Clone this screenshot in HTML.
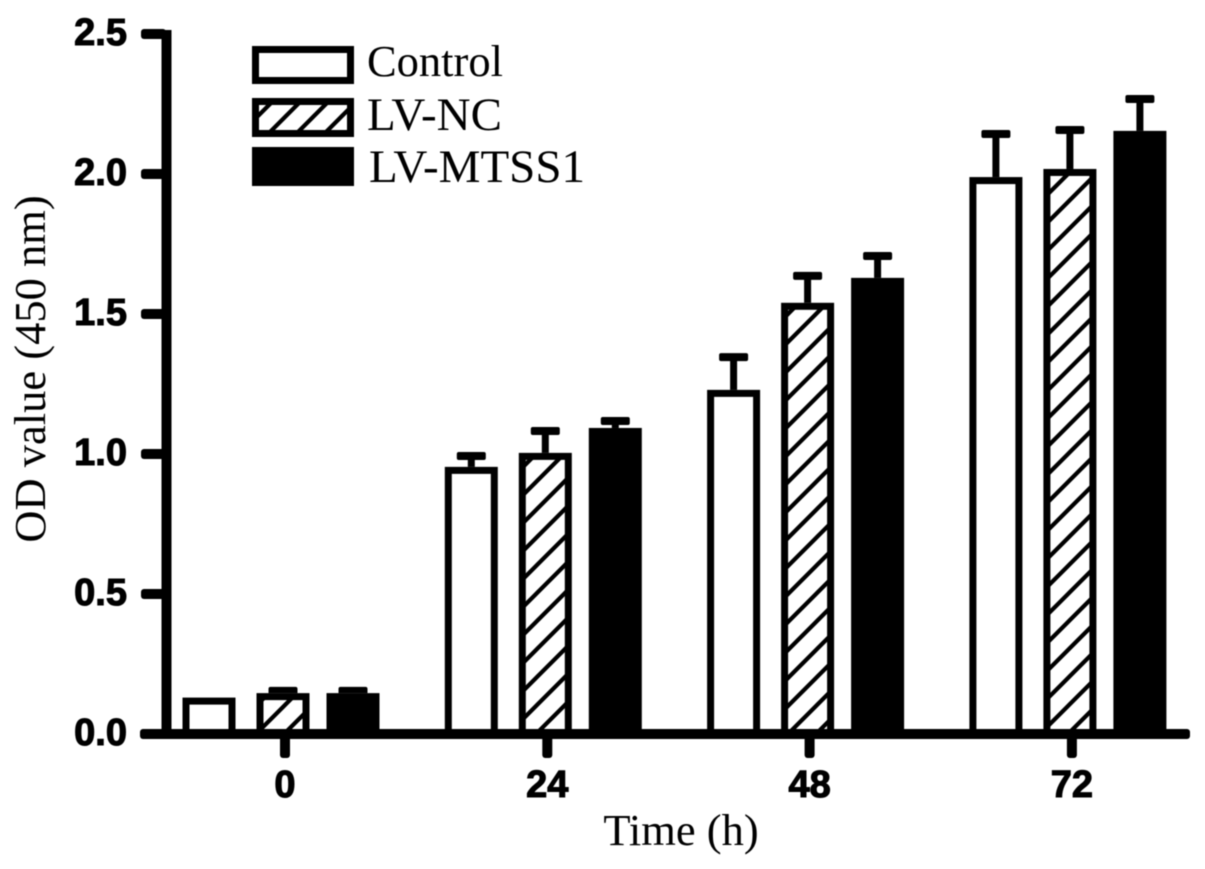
<!DOCTYPE html>
<html lang="en">
<head>
<meta charset="utf-8">
<title>OD value over time</title>
<style>
html,body{margin:0;padding:0;background:#fff;width:1205px;height:869px;overflow:hidden}
svg{display:block;filter:blur(0.6px)}
.tick{font-family:"Liberation Sans",sans-serif;font-weight:bold;font-size:38px;fill:#000;stroke:#000;stroke-width:1.1px}
.serif{font-family:"Liberation Serif",serif;font-size:44.5px;fill:#000}
.serif-lv{font-size:47px}
</style>
</head>
<body>
<svg id="chart" xmlns="http://www.w3.org/2000/svg" width="1205" height="869" viewBox="0 0 1205 869">
<defs>
<pattern id="hatch" patternUnits="userSpaceOnUse" width="28" height="28" x="4" y="6">
<path d="M-7 7L7 -7M0 28L28 0M21 35L35 21" stroke="#000" stroke-width="4.2" fill="none"/>
</pattern>
</defs>
<rect width="1205" height="869" fill="#fff"/>
<g id="bars"></g>
<g id="axes"></g>
<g>
<rect x="255.5" y="49.5" width="95" height="31" fill="#fff" stroke="#000" stroke-width="7"/>
<rect x="255.5" y="101.5" width="95" height="32" fill="#fff" stroke="none"/>
<rect x="255.5" y="101.5" width="95" height="32" fill="url(#hatch)" stroke="#000" stroke-width="7"/>
<rect x="252" y="147" width="102" height="39" fill="#000"/>
<text class="serif" x="367" y="76">Control</text>
<text class="serif serif-lv" x="367" y="130">LV-NC</text>
<text class="serif serif-lv" x="369" y="182">LV-MTSS1</text>
</g>
<text class="serif" x="681" y="845" text-anchor="middle">Time (h)</text>
<text class="serif" x="0" y="0" text-anchor="middle" transform="translate(45 369) rotate(-90)">OD value (450 nm)</text>
</svg>
<script>
const categories = ['0', '24', '48', '72'];
const yTickLabels = ['0.0', '0.5', '1.0', '1.5', '2.0', '2.5'];
const controlValues = [0.13, 0.954, 1.229, 1.989];
const controlErrors = [0.0, 0.039, 0.117, 0.154];
const lvNcValues = [0.146, 1.004, 1.54, 2.018];
const lvNcErrors = [0.008, 0.078, 0.096, 0.139];
const lvMtss1Values = [0.146, 1.093, 1.629, 2.154];
const lvMtss1Errors = [0.008, 0.025, 0.078, 0.114];

const NS = 'http://www.w3.org/2000/svg';
const barsG = document.getElementById('bars');
const axesG = document.getElementById('axes');

function yScale(v) { return 734 - 280 * v; }
function xScale(i) { return 285 + 262.3 * i; }

function make(tag, attrs, parent) {
  const el = document.createElementNS(NS, tag);
  for (const k in attrs) el.setAttribute(k, attrs[k]);
  parent.appendChild(el);
  return el;
}

const series = [
  { key: 'control', values: controlValues, errors: controlErrors, offset: -76, fill: '#fff' },
  { key: 'lv-nc', values: lvNcValues, errors: lvNcErrors, offset: -2, fill: 'url(#hatch)' },
  { key: 'lv-mtss1', values: lvMtss1Values, errors: lvMtss1Errors, offset: 68, fill: '#000' }
];
const barW = 53, sw = 7;

series.forEach(function (s) {
  categories.forEach(function (c, i) {
    const cx = xScale(i) + s.offset;
    const top = yScale(s.values[i]);
    const errTop = yScale(s.values[i] + s.errors[i]);
    if (s.errors[i] > 0) {
      const stem = make('rect', { x: cx - 3.5, y: errTop, width: 7, height: top - errTop + 2, fill: '#000' }, barsG);
      
      
      const cap = make('rect', { x: cx - 14.5, y: errTop - 4, width: 29, height: 8, rx: 2, fill: '#000' }, barsG);
      
      
    }
    const bg = make('rect', { x: cx - barW / 2, y: top, width: barW, height: yScale(0) - top, fill: '#fff' }, barsG);
    
    
    const bar = make('rect', {
      x: cx - barW / 2 + sw / 2, y: top + sw / 2,
      width: barW - sw, height: yScale(0) - top - sw / 2,
      fill: s.fill, stroke: '#000', 'stroke-width': sw
    }, barsG);
    
    
  });
});

const yAxis = make('rect', { x: 161.5, y: 30, width: 10, height: 709, fill: '#000' }, axesG);


const xAxis = make('rect', { x: 140, y: 729, width: 1050, height: 10, rx: 3, fill: '#000' }, axesG);



yTickLabels.forEach(function (label) {
  const y = yScale(parseFloat(label));
  const t = make('rect', { x: 141, y: y - 5, width: 25, height: 10, rx: 3, fill: '#000' }, axesG);
  
  
  const tx = make('text', { x: 127, y: y + 11, 'text-anchor': 'end', class: 'tick' }, axesG);
  
  
  tx.textContent = label;
});

categories.forEach(function (c, i) {
  const x = xScale(i);
  const t = make('rect', { x: x - 5, y: 735, width: 10, height: 23, rx: 3, fill: '#000' }, axesG);
  
  
  const tx = make('text', { x: x, y: 797, 'text-anchor': 'middle', class: 'tick' }, axesG);
  
  
  tx.textContent = c;
});
</script>
</body>
</html>
